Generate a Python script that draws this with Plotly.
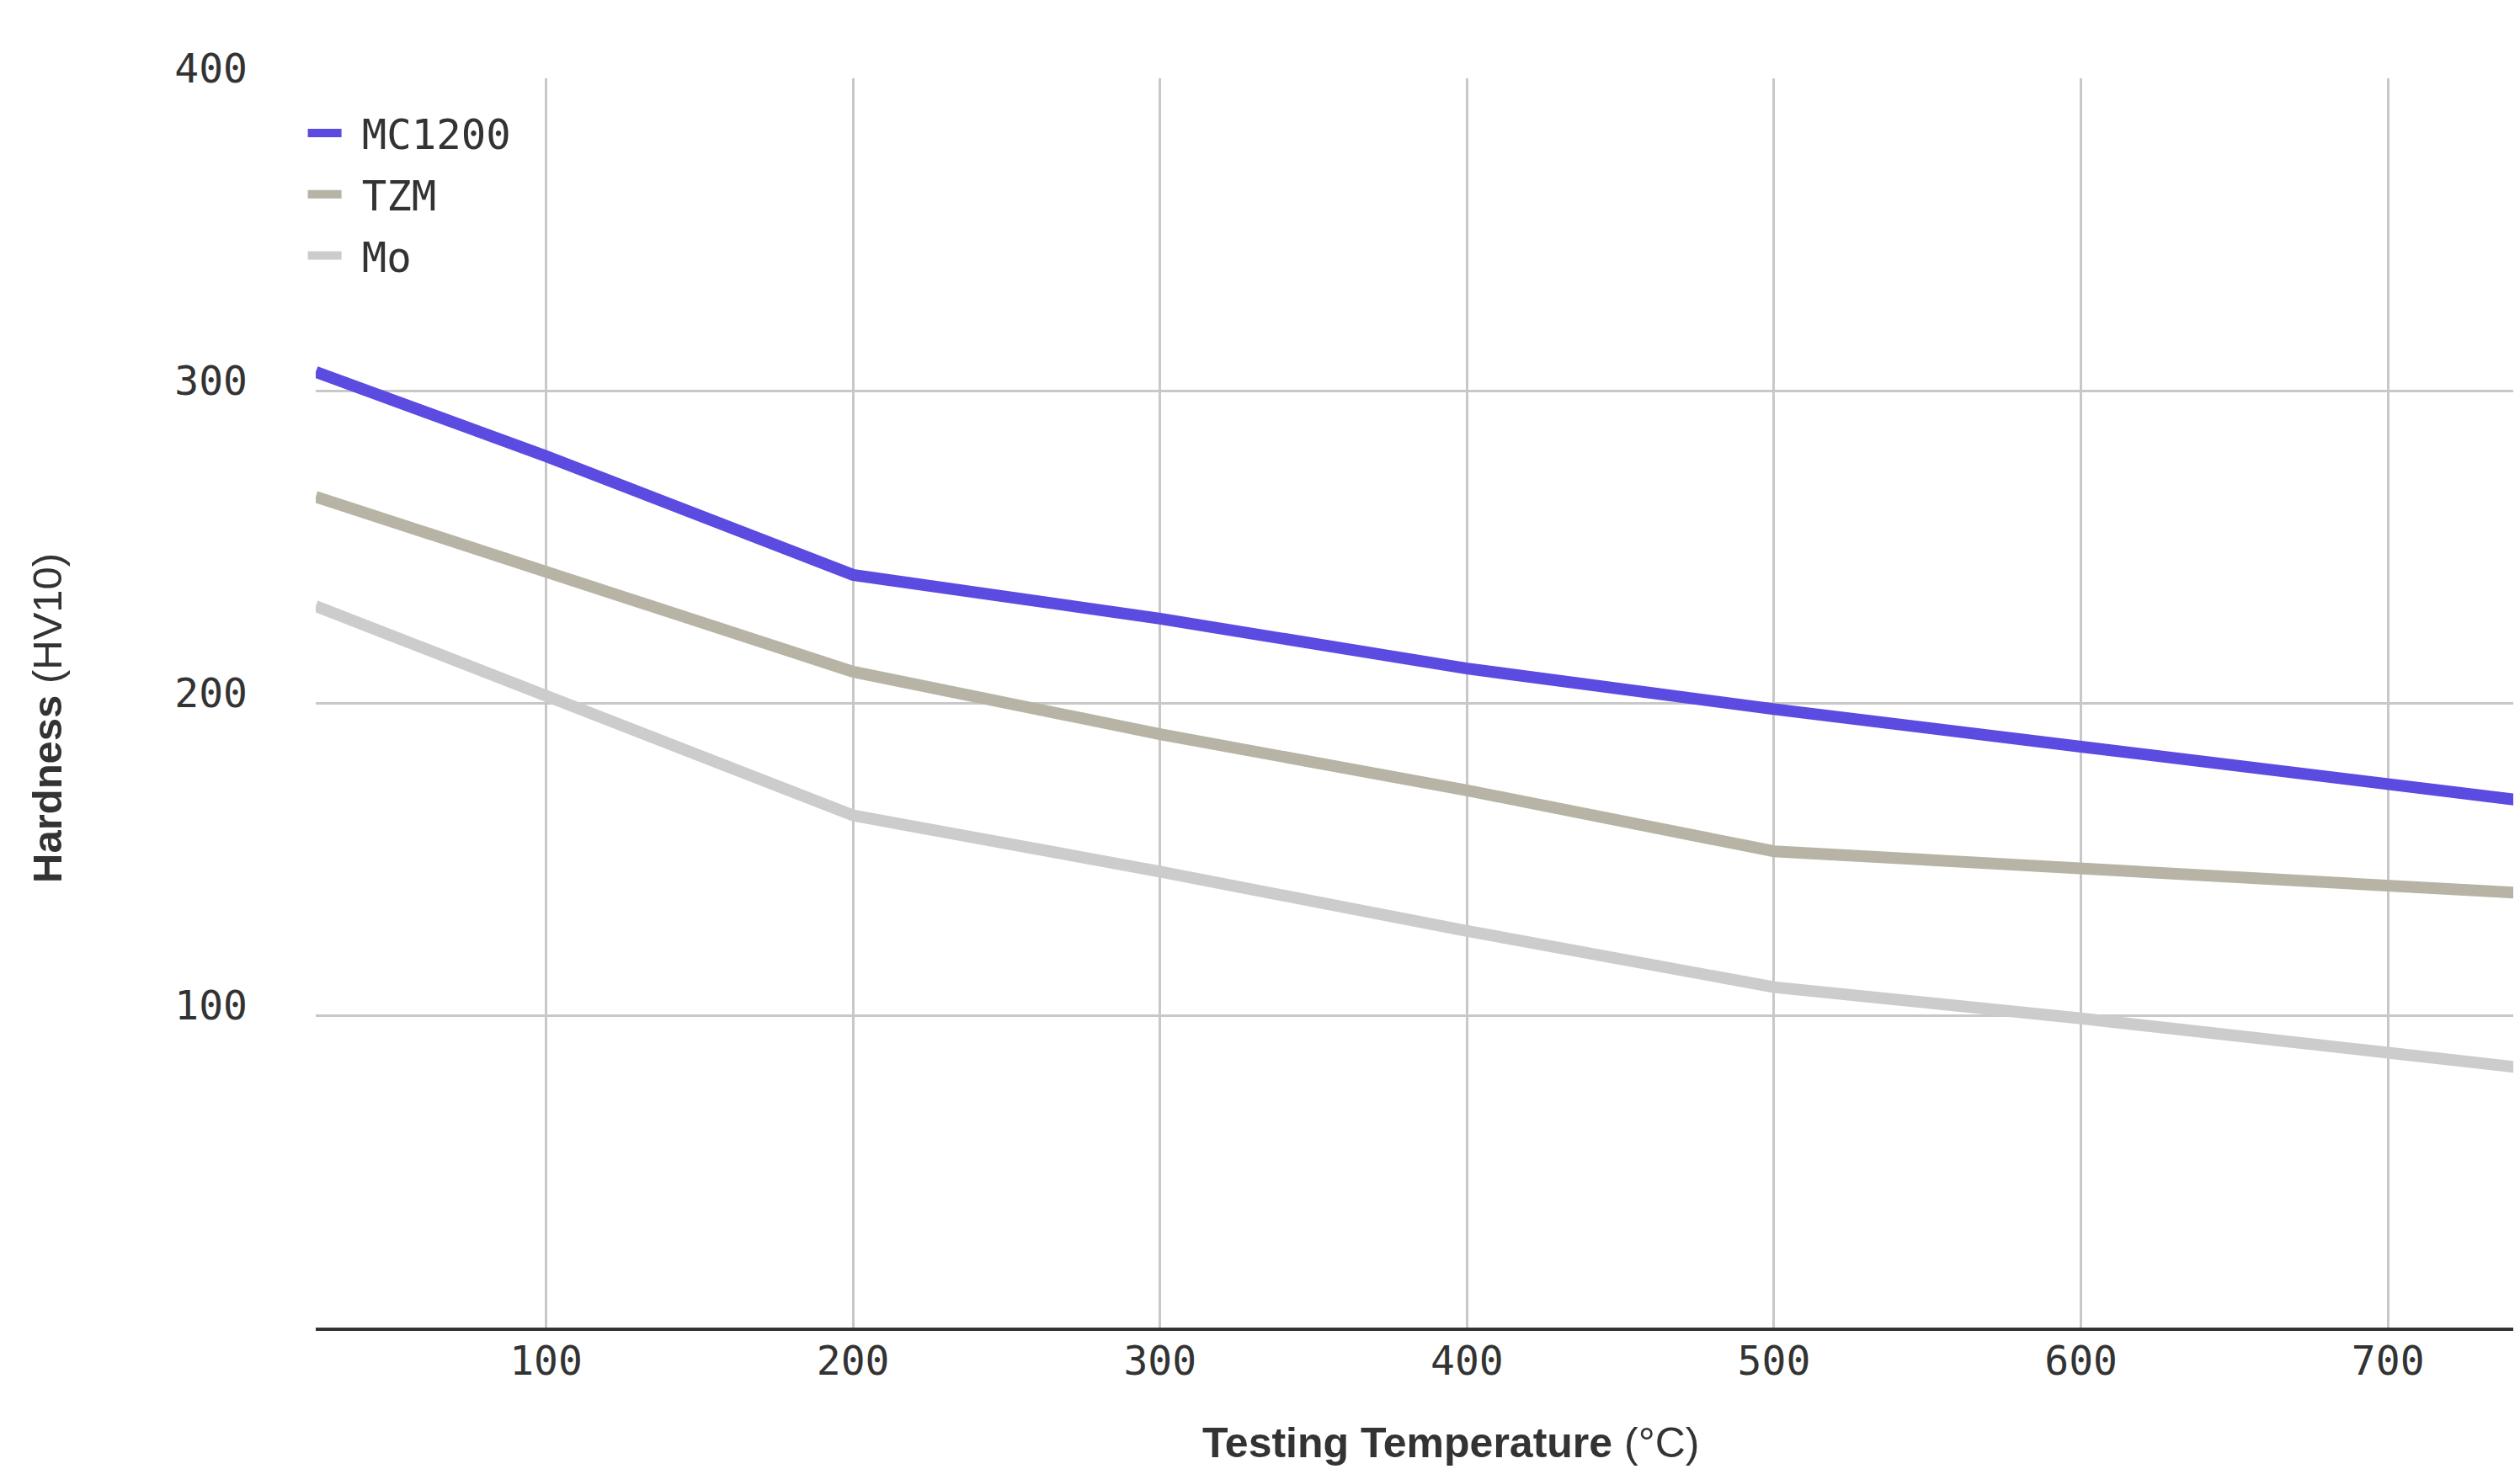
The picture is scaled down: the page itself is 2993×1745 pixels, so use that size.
import plotly.graph_objects as go

# Testing temperature (°C)
temperature = [25, 100, 200, 300, 400, 500, 600, 700, 800]

# Hardness (HV10) per material
mc1200 = [306, 279, 241, 227, 211, 198, 186, 174, 162]
tzm = [266, 242, 210, 190, 172, 152.5, 147, 142, 136]
mo = [231, 202, 164, 146, 127, 109, 99, 88, 77]

series_names = ["MC1200", "TZM", "Mo"]
series_values = [mc1200, tzm, mo]
series_colors = ["#5B4BE1", "#B8B4A5", "#CCCCCC"]

x_ticks = [100, 200, 300, 400, 500, 600, 700]
y_ticks = [100, 200, 300, 400]

# page body adds an 8px offset; size figure to fit the window
OFF = 8
W, H = 2993 - OFF, 1745 - OFF
ML, MR, MT, MB = 375 - OFF, 0, 93 - OFF, 168
PW = W - ML - MR
PH = H - MT - MB

# small spacer between legend swatch and label
GAP = '<span style="font-size:32px">&nbsp;</span>'

fig = go.Figure()
for name, vals, col in zip(series_names, series_values, series_colors):
    fig.add_trace(go.Scatter(
        x=temperature, y=vals, name=GAP + name, mode="lines",
        line=dict(color=col, width=14),
        legendgroup=name,
    ))

mono = "DejaVu Sans Mono"
sans = "Liberation Sans, Arial, sans-serif"

fig.update_layout(
    width=W, height=H,
    margin=dict(l=ML, r=MR, t=MT, b=MB, pad=0),
    paper_bgcolor="white", plot_bgcolor="white",
    showlegend=True,
    legend=dict(
        x=-0.0055, y=0.982, xanchor="left", yanchor="top",
        font=dict(family=mono, size=49, color="#333333"),
        bgcolor="rgba(0,0,0,0)",
        itemwidth=40,
        tracegroupgap=6,
    ),
    xaxis=dict(
        range=[25, 743],
        tickvals=x_ticks,
        ticktext=[str(v) for v in x_ticks],
        showgrid=True, gridcolor="#C8C8C8", gridwidth=3,
        showline=True, linecolor="#333333", linewidth=4,
        zeroline=False, ticks="",
        tickfont=dict(family=mono, size=48, color="#333333"),
    ),
    yaxis=dict(
        range=[0, 400],
        tickvals=y_ticks,
        ticktext=[str(v) for v in y_ticks],
        showgrid=True, gridcolor="#C8C8C8", gridwidth=3,
        showline=False, zeroline=False, ticks="",
        tickfont=dict(family=mono, size=48, color="#333333"),
        ticklabelstandoff=80,
        ticklabelshift=-12,
    ),
    annotations=[
        dict(
            text="<b>Testing Temperature</b> (°C)",
            xref="paper", yref="paper",
            x=(1723 - OFF - ML) / PW, y=-0.092,
            xanchor="center", yanchor="middle", showarrow=False,
            font=dict(family=sans, size=50, color="#333333"),
        ),
        dict(
            text="<b>Hardness</b> (HV10)",
            xref="paper", yref="paper",
            x=(56 - OFF - ML) / PW, y=(1577 - 853) / (1577 - 93),
            xanchor="center", yanchor="middle", showarrow=False,
            textangle=-90,
            font=dict(family=sans, size=49, color="#333333"),
        ),
    ],
)

try:
    fig.update_xaxes(ticklabelstandoff=-6)
except ValueError:
    fig.update_xaxes(ticklabelstandoff=0)

fig.write_html("out.html")
